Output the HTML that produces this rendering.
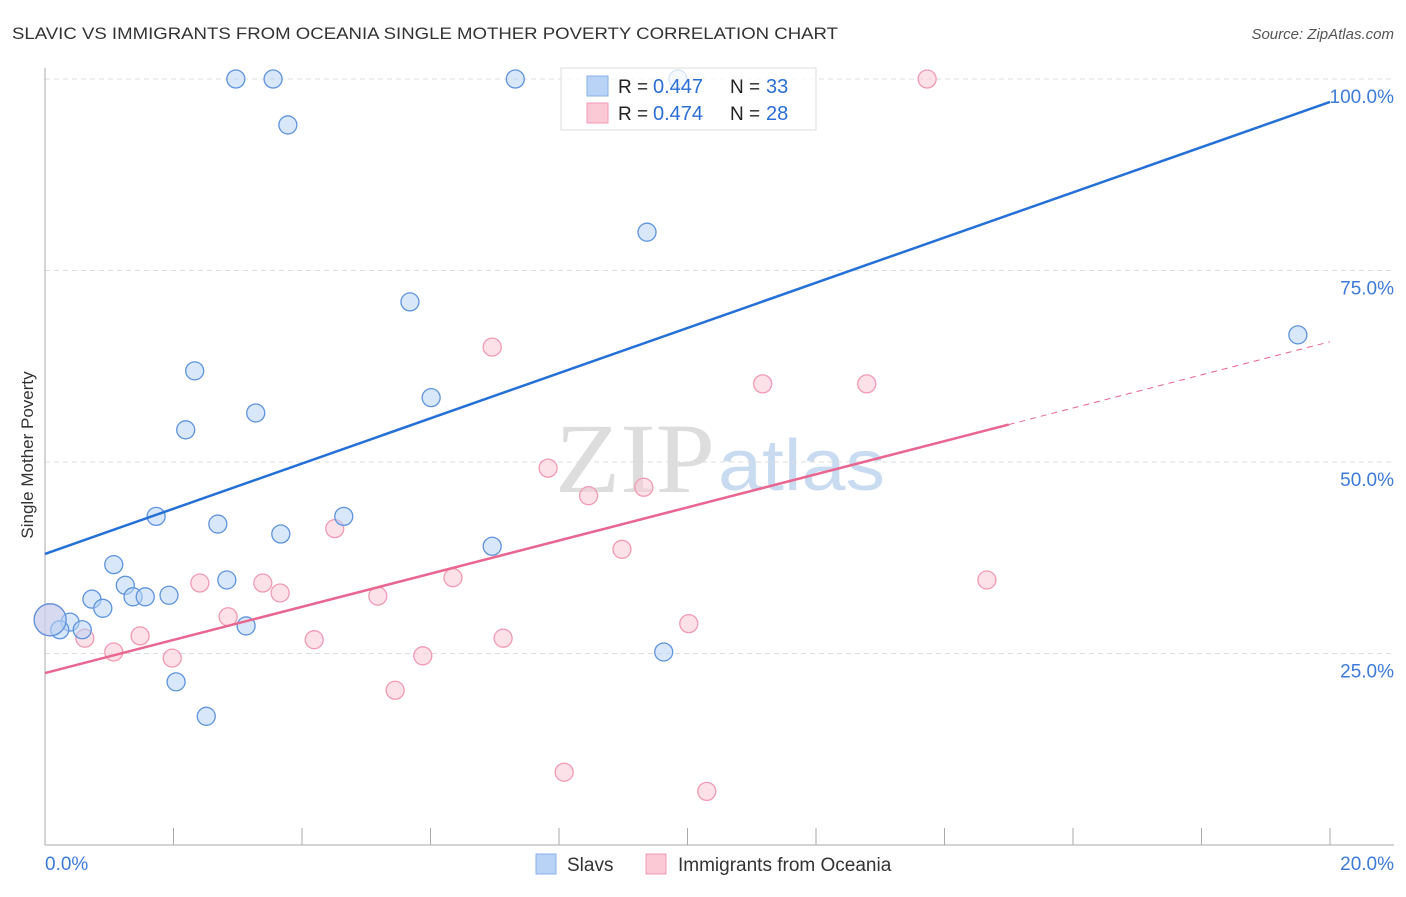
<!DOCTYPE html>
<html><head><meta charset="utf-8"><style>
body{margin:0;background:#fff;font-family:"Liberation Sans",sans-serif;}
</style></head><body>
<svg id="c" width="1406" height="892" xmlns="http://www.w3.org/2000/svg" font-family="Liberation Sans, sans-serif">
<text x="12" y="39" font-size="17" fill="#333" textLength="826" lengthAdjust="spacingAndGlyphs">SLAVIC VS IMMIGRANTS FROM OCEANIA SINGLE MOTHER POVERTY CORRELATION CHART</text>
<text x="1394" y="39" font-size="15" fill="#555" font-style="italic" text-anchor="end">Source: ZipAtlas.com</text>
<text x="33" y="455" font-size="17" fill="#333" transform="rotate(-90 33 455)" text-anchor="middle">Single Mother Poverty</text>
<text x="555" y="492" font-size="100" fill="#ddd" style="font-family:'Liberation Serif',serif" textLength="160" lengthAdjust="spacingAndGlyphs">ZIP</text>
<text x="718" y="490" font-size="72" fill="#c9dbf1" textLength="167" lengthAdjust="spacingAndGlyphs">atlas</text>
<g id="grid"></g><g id="marks"></g>
<g>
<rect x="561" y="68" width="255" height="62" fill="#fff" fill-opacity="0.75" stroke="#ddd"/>
<rect x="587" y="76" width="21" height="20" fill="#b8d3f5" stroke="#8ab2e8"/>
<rect x="587" y="103" width="21" height="20" fill="#fbc8d6" stroke="#f09ab5"/>
<text x="618" y="93" font-size="19" fill="#222">R =</text>
<text x="653" y="93" font-size="20" fill="#2b6fd6">0.447</text>
<text x="730" y="93" font-size="19" fill="#222">N =</text>
<text x="766" y="93" font-size="20" fill="#2b6fd6">33</text>
<text x="618" y="120" font-size="19" fill="#222">R =</text>
<text x="653" y="120" font-size="20" fill="#2b6fd6">0.474</text>
<text x="730" y="120" font-size="19" fill="#222">N =</text>
<text x="766" y="120" font-size="20" fill="#2b6fd6">28</text>
</g>
<g>
<rect x="536" y="854" width="20" height="20" fill="#b8d3f5" stroke="#8ab2e8"/>
<text x="567" y="871" font-size="19" fill="#333">Slavs</text>
<rect x="646" y="854" width="20" height="20" fill="#fbc8d6" stroke="#f09ab5"/>
<text x="678" y="871" font-size="19" fill="#333">Immigrants from Oceania</text>
</g>
<text x="45" y="870" font-size="19" fill="#3d7bd9">0.0%</text>
<text x="1394" y="870" font-size="19" fill="#3d7bd9" text-anchor="end">20.0%</text>
</svg>
<script>
const yTicks=[25,50,75,100];
const yTickLabels=["25.0%","50.0%","75.0%","100.0%"];
const slavsX=[2.97,3.55,7.32,3.78,9.37,5.68,19.50,2.33,6.01,3.28,2.19,1.73,4.65,2.69,3.67,6.96,1.07,1.25,2.83,0.73,1.37,1.56,1.93,0.90,0.39,0.58,0.23,3.13,9.63,2.04,2.51,0.08,9.85];
const slavsY=[100,100,100,94.0,80.0,70.9,66.6,61.9,58.4,56.4,54.2,42.9,42.9,41.9,40.6,39.0,36.6,33.9,34.6,32.1,32.4,32.4,32.6,30.9,29.1,28.1,28.1,28.6,25.2,21.3,16.8,29.4,100];
const ocX=[13.73,6.96,11.17,12.79,7.83,8.46,9.32,4.51,8.98,14.66,6.35,2.41,3.39,3.66,5.18,2.85,10.02,1.48,0.62,7.13,4.19,1.07,1.98,5.88,5.45,8.08,10.30,0.08];
const ocY=[100,65.0,60.2,60.2,49.2,45.6,46.7,41.3,38.6,34.6,34.9,34.2,34.2,32.9,32.5,29.8,28.9,27.3,27.0,27.0,26.8,25.2,24.4,24.7,20.2,9.5,7.0,29.4];
const ocSize=[9,9,9,9,9,9,9,9,9,9,9,9,9,9,9,9,9,9,9,9,9,9,9,9,9,9,9,16];
const slavsSize=[9,9,9,9,9,9,9,9,9,9,9,9,9,9,9,9,9,9,9,9,9,9,9,9,9,9,9,9,9,9,9,16,9];
const trendSlavs=[38.0,97.0];
const trendOc=[22.45,65.7];
const ocSolidEnd=15.0;
const NS="http://www.w3.org/2000/svg";
const X0=45,X1=1330,Y0=845,Y100=79;
const sx=v=>X0+(v/20)*(X1-X0);
const sy=v=>Y0-(v/100)*(Y0-Y100);
function mk(t,a,p){const e=document.createElementNS(NS,t);for(const k in a)e.setAttribute(k,a[k]);p.appendChild(e);return e;}
const grid=document.getElementById('grid'),marks=document.getElementById('marks');
yTicks.forEach((t,i)=>{
 const l=mk('line',{x1:X0,x2:1394,y1:sy(t),y2:sy(t),stroke:'#ddd','stroke-dasharray':'5,4'},grid);
 
 
 const tx=mk('text',{x:1394,y:sy(t)+24,'font-size':19,fill:'#3d7bd9','text-anchor':'end'},grid);
 tx.textContent=yTickLabels[i];
 
 
});
const ax=mk('line',{x1:X0,x2:X0,y1:68,y2:Y0,stroke:'#aaa'},grid);


const bx=mk('line',{x1:X0,x2:1394,y1:Y0,y2:Y0,stroke:'#aaa'},grid);


for(let i=1;i<=10;i++){const tk=mk('line',{x1:sx(i*2),x2:sx(i*2),y1:828,y2:Y0,stroke:'#aaa'},grid);
 
 }
ocX.forEach((x,i)=>{const c=mk('circle',{cx:sx(x),cy:sy(ocY[i]),r:ocSize[i],fill:'#fbc8d6','fill-opacity':0.55,stroke:'#f09ab5','stroke-width':1.3},marks);
 
 });
slavsX.forEach((x,i)=>{const c=mk('circle',{cx:sx(x),cy:sy(slavsY[i]),r:slavsSize[i],fill:'#b8d3f5','fill-opacity':0.55,stroke:'#5f94dd','stroke-width':1.3},marks);
 
 });
const tb=mk('line',{x1:sx(0),y1:sy(trendSlavs[0]),x2:sx(20),y2:sy(trendSlavs[1]),stroke:'#2470d6','stroke-width':2.5},marks);


const oy=x=>trendOc[0]+(trendOc[1]-trendOc[0])*x/20;
const tp=mk('line',{x1:sx(0),y1:sy(oy(0)),x2:sx(ocSolidEnd),y2:sy(oy(ocSolidEnd)),stroke:'#e8668f','stroke-width':2.5},marks);


const td=mk('line',{x1:sx(ocSolidEnd),y1:sy(oy(ocSolidEnd)),x2:sx(20),y2:sy(oy(20)),stroke:'#e8668f','stroke-width':1,'stroke-dasharray':'6,5'},marks);


</script>
</body></html>
